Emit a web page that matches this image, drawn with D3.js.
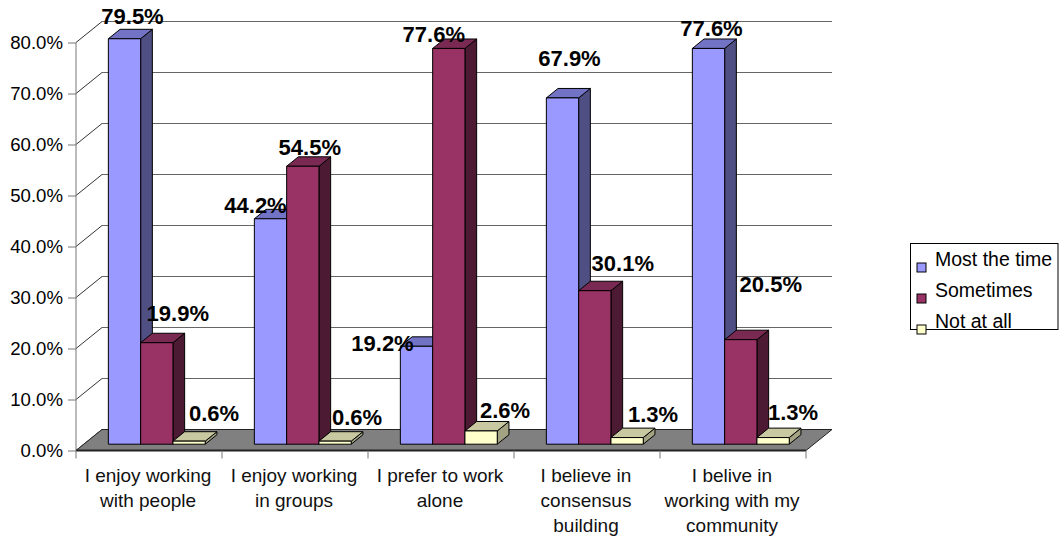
<!DOCTYPE html>
<html>
<head>
<meta charset="utf-8">
<script src="https://cdn.jsdelivr.net/npm/d3@7/dist/d3.min.js"></script>
<style>
  html, body { margin: 0; padding: 0; background: #ffffff; }
  svg { display: block; font-family: "Liberation Sans", Arial, sans-serif; }
</style>
</head>
<body>
<svg id="chart" width="1060" height="541"></svg>
<script>
// Survey responses, percent of respondents
const categories = [
  "I enjoy working\nwith people",
  "I enjoy working\nin groups",
  "I prefer to work\nalone",
  "I believe in\nconsensus\nbuilding",
  "I belive in\nworking with my\ncommunity"
];
const seriesNames = ["Most the time", "Sometimes", "Not at all"];
const mostTheTime = [79.5, 44.2, 19.2, 67.9, 77.6];
const sometimes   = [19.9, 54.5, 77.6, 30.1, 20.5];
const notAtAll    = [0.6, 0.6, 2.6, 1.3, 1.3];
const yTicks = [0, 10, 20, 30, 40, 50, 60, 70, 80];

const seriesValues = [mostTheTime, sometimes, notAtAll];

// face shading per series: front, top, side
const palette = [
  { front: "#9999ff", top: "#7373c6", side: "#4f4f84" },
  { front: "#993366", top: "#7a2a52", side: "#4c1a33" },
  { front: "#ffffcc", top: "#c9c9a1", side: "#a3a383" }
];

// hand-placed label shifts (px) from each bar's top-front centre
const labelShift = [
  [[8, -15], [-15, -6], [-34, 5], [7, -32], [3, -12]],
  [[21, -22], [7, -11], [-15, -6], [28, -20], [30, -48]],
  [[25, -20], [22, -16], [24, -13], [26, -16], [20, -18]]
];

const svg = d3.select("#chart");

// 3D box geometry
const plotLeft = 76, plotRight = 806;
const depthX = 26, depthY = -21;         // full floor depth offset
const barDepthStart = 0.3, barDepth = 0.45;

const x = d3.scaleBand().domain(d3.range(categories.length)).range([plotLeft, plotRight]);
const xs = d3.scaleBand().domain(d3.range(seriesNames.length))
  .range([0, x.bandwidth()]).paddingInner(0).paddingOuter(0.76);
const y = d3.scaleLinear().domain([0, 80]).range([450.5, 42.5]);

const proj = (px, py, f) => [px + f * depthX, py + f * depthY];
const pts = arr => arr.map(p => p.join(",")).join(" ");

// back wall gridlines and wall diagonals
const grid = svg.append("g");
yTicks.forEach(t => {
  const yy = y(t);
  const b0 = proj(plotLeft, yy, 1), b1 = proj(plotRight, yy, 1);
  if (t > 0) {
    grid.append("line").attr("x1", b0[0]).attr("y1", b0[1]).attr("x2", b1[0]).attr("y2", b1[1])
      .attr("stroke", "#666").attr("stroke-width", 1);
  }
  grid.append("line").attr("x1", plotLeft).attr("y1", yy).attr("x2", b0[0]).attr("y2", b0[1])
    .attr("stroke", "#333").attr("stroke-width", 1);
});

// floor
const f0 = [plotLeft, y(0)], f1 = [plotRight, y(0)];
svg.append("polygon")
  .attr("points", pts([f0, f1, proj(plotRight, y(0), 1), proj(plotLeft, y(0), 1)]))
  .attr("fill", "#808080").attr("stroke", "#222").attr("stroke-width", 1);

// value axis
const yAxis = svg.append("g").attr("transform", `translate(${plotLeft},0)`)
  .call(d3.axisLeft(y).tickValues(yTicks).tickSize(8).tickPadding(5)
    .tickFormat(d => d.toFixed(1) + "%"));
yAxis.select(".domain").attr("stroke", "#777").attr("d", `M0,${y(0)}V${y(80)}`);
yAxis.selectAll(".tick line").attr("stroke", "#777");
yAxis.selectAll(".tick text").attr("font-size", 18.6).attr("fill", "#000")
  .attr("font-family", "Liberation Sans, Arial, sans-serif");

// category axis
const xAxis = svg.append("g").attr("transform", `translate(0,${y(0)})`);
xAxis.append("line").attr("x1", plotLeft).attr("x2", plotRight).attr("y1", 0).attr("y2", 0)
  .attr("stroke", "#222").attr("stroke-width", 2);
d3.range(categories.length + 1).forEach(i => {
  const tx = i < categories.length ? x(i) : plotRight;
  xAxis.append("line").attr("x1", tx).attr("x2", tx).attr("y1", 0).attr("y2", 8)
    .attr("stroke", "#777");
});
categories.forEach((c, i) => {
  const cx = x(i) + x.bandwidth() / 2 - 1;
  const t = xAxis.append("text").attr("x", cx).attr("y", 31)
    .attr("text-anchor", "middle").attr("font-size", 19).attr("fill", "#111");
  c.split("\n").forEach((line, k) => {
    t.append("tspan").attr("x", cx).attr("dy", k === 0 ? 0 : 25).text(line);
  });
});

// bars
const bars = svg.append("g");
categories.forEach((c, i) => {
  seriesNames.forEach((s, j) => {
    const v = seriesValues[j][i];
    const left = x(i) + xs(j), right = left + xs.bandwidth();
    const top = y(v), base = y(0);
    const f = barDepthStart, g = barDepthStart + barDepth;
    const col = palette[j];
    const fl = proj(left, base, f), fr = proj(right, base, f);
    const tl = proj(left, top, f), tr = proj(right, top, f);
    const btl = proj(left, top, g), btr = proj(right, top, g), bbr = proj(right, base, g);
    // side, top, then front face
    bars.append("polygon").attr("points", pts([fr, bbr, btr, tr]))
      .attr("fill", col.side).attr("stroke", "#000").attr("stroke-width", 1).attr("stroke-linejoin", "round");
    bars.append("polygon").attr("points", pts([tl, tr, btr, btl]))
      .attr("fill", col.top).attr("stroke", "#000").attr("stroke-width", 1).attr("stroke-linejoin", "round");
    bars.append("polygon").attr("points", pts([fl, fr, tr, tl]))
      .attr("fill", col.front).attr("stroke", "#000").attr("stroke-width", 1).attr("stroke-linejoin", "round");
  });
});

// data labels
const labels = svg.append("g");
categories.forEach((c, i) => {
  seriesNames.forEach((s, j) => {
    const v = seriesValues[j][i];
    const left = x(i) + xs(j);
    const p = proj(left + xs.bandwidth() / 2, y(v), barDepthStart);
    const sh = labelShift[j][i];
    labels.append("text").attr("x", p[0] + sh[0]).attr("y", p[1] + sh[1])
      .attr("text-anchor", "middle").attr("font-size", 22).attr("font-weight", "bold")
      .attr("fill", "#000").text(v.toFixed(1) + "%");
  });
});

// legend
const legend = svg.append("g").attr("transform", "translate(910.5,243.5)");
legend.append("rect").attr("width", 147.5).attr("height", 86)
  .attr("fill", "#fff").attr("stroke", "#000").attr("stroke-width", 1);
seriesNames.forEach((s, j) => {
  const base = 22.5 + j * 31;
  legend.append("rect").attr("x", 6.5).attr("y", base - 3).attr("width", 9).attr("height", 9)
    .attr("fill", palette[j].front).attr("stroke", "#000").attr("stroke-width", 1);
  legend.append("text").attr("x", 24.5).attr("y", base).attr("font-size", 19.5)
    .attr("fill", "#000").text(s);
});
</script>
</body>
</html>
